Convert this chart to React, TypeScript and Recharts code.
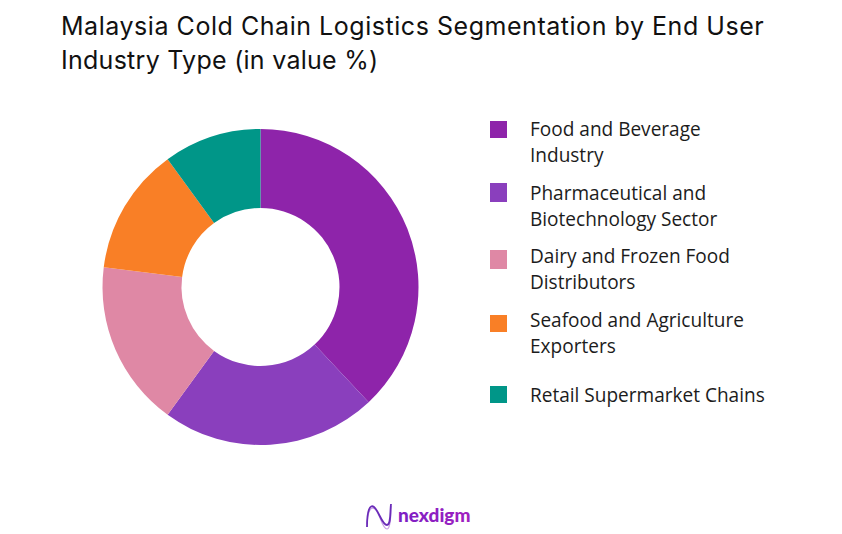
import { PieChart, Pie, Cell, Legend } from "recharts";

const titleLines = [
  "Malaysia Cold Chain Logistics Segmentation by End User",
  "Industry Type (in value %)",
];
const segments = [
  "Food and Beverage Industry",
  "Pharmaceutical and Biotechnology Sector",
  "Dairy and Frozen Food Distributors",
  "Seafood and Agriculture Exporters",
  "Retail Supermarket Chains",
];
const shares = [38, 22, 17, 13, 10];
const colors = ["#8e24aa", "#8a3fbd", "#df88a5", "#f97f26", "#009688"];
const legendLines = [
  ["Food and Beverage", "Industry"],
  ["Pharmaceutical and", "Biotechnology Sector"],
  ["Dairy and Frozen Food", "Distributors"],
  ["Seafood and Agriculture", "Exporters"],
  ["Retail Supermarket Chains"],
];

// legend layout, the rows are not evenly spaced in the original
const legendTops = [116, 180, 243, 307, 382];
const swatchTops = [121, 183, 250, 315, 386];
const swatchHeights = [17, 19, 19, 17, 17];
const titleSpacing = [0.54, 0.27];

const data = segments.map((name, i) => ({ name, value: shares[i] }));

function SegmentLegend() {
  return (
    <div style={{ position: "relative", width: 360, height: 320 }}>
      {legendLines.map((lines, i) => (
        <div key={lines[0]}>
          <div
            style={{
              position: "absolute",
              left: 0.5,
              top: swatchTops[i] - 116,
              width: 17,
              height: swatchHeights[i],
              background: colors[i],
            }}
          />
          <div
            style={{
              position: "absolute",
              left: 41,
              top: legendTops[i] - 116,
              fontFamily: "'Open Sans', sans-serif",
              fontSize: 19.05,
              lineHeight: "26px",
              color: "#1c1c1c",
              whiteSpace: "nowrap",
            }}
          >
            {lines.map((l) => (
              <div key={l}>{l}</div>
            ))}
          </div>
        </div>
      ))}
    </div>
  );
}

function Logo() {
  return (
    <svg width={120} height={32} style={{ position: "absolute", left: 360, top: 500 }}>
      <defs>
        <linearGradient id="logoGrad" x1="0" x2="1" y1="0" y2="0">
          <stop offset="0" stopColor="#7b1fc4" />
          <stop offset="1" stopColor="#a020c0" />
        </linearGradient>
      </defs>
      <path d="M7 24 C8 10 11 6 15 9 C20 13 22 29 27 29 C30 29 31 16 31 6" fill="none" stroke="#c9a0e6" strokeWidth={1.2} />
      <path d="M7 27 C7 10 10 4 14 7 C19 11 22 25 27 25 C31 25 30 12 31 4" fill="none" stroke="#6a2bb8" strokeWidth={1.8} />
      <text x={38} y={22} fontFamily="Lato, sans-serif" fontWeight={900} fontSize={19} fill="url(#logoGrad)">
        nexdigm
      </text>
    </svg>
  );
}

export default function App() {
  return (
    <div style={{ position: "fixed", left: 0, top: 0, width: 842, height: 534, background: "#fff", overflow: "hidden" }}>
      <div
        style={{
          position: "absolute",
          left: 61,
          top: 9,
          fontFamily: "Inter, sans-serif",
          fontSize: 25,
          lineHeight: "34px",
          color: "#111",
          whiteSpace: "nowrap",
        }}
      >
        {titleLines.map((t, i) => (
          <div key={t} style={{ letterSpacing: titleSpacing[i] }}>
            {t}
          </div>
        ))}
      </div>
      <PieChart
        width={842}
        height={534}
        margin={{ top: 0, right: 0, bottom: 0, left: 0 }}
        style={{ position: "absolute", left: 0, top: 0 }}
      >
        <Pie
          data={data}
          dataKey="value"
          nameKey="name"
          cx={260.5}
          cy={287}
          outerRadius={158}
          innerRadius={79}
          startAngle={90}
          endAngle={-270}
          stroke="none"
          isAnimationActive={false}
        >
          {data.map((d, i) => (
            <Cell key={d.name} fill={colors[i]} />
          ))}
        </Pie>
        <Legend
          content={<SegmentLegend />}
          layout="vertical"
          wrapperStyle={{ position: "absolute", left: 489, top: 116, width: 360, height: 320 }}
        />
      </PieChart>
      <Logo />
    </div>
  );
}
